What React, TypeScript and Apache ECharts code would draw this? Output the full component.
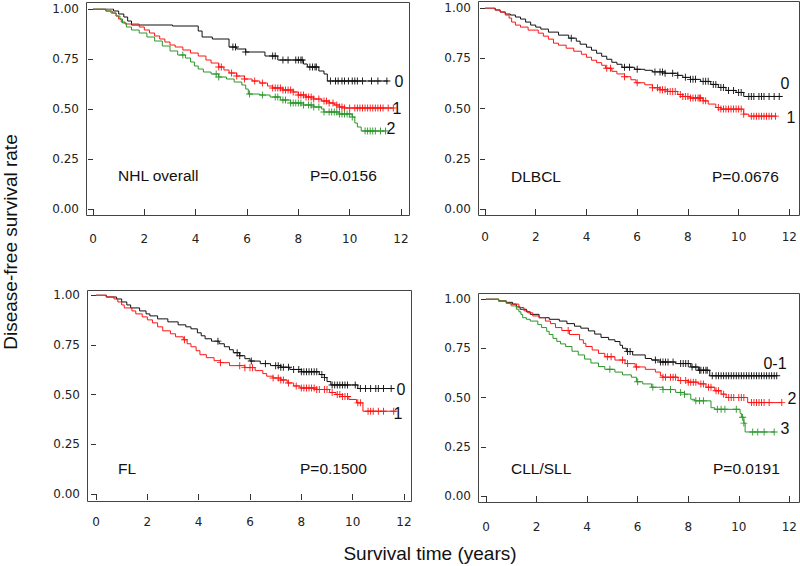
import React, { useEffect, useRef } from "react";
import * as echarts from "echarts";

// ---------- axis ticks ----------
const xTickValues = [0, 2, 4, 6, 8, 10, 12];
const yTickValues = [0, 0.25, 0.5, 0.75, 1.0];

// ---------- Panel 1: NHL overall ----------
const nhlTitle = "NHL overall";
const nhlP = "P=0.0156";
const nhlLabels = ["0", "1", "2"];
const nhl0Steps = [[0,1],[0.8,0.99],[1.0,0.975],[1.2,0.96],[1.35,0.94],[1.5,0.92],[3.1,0.915],[4.1,0.89],[4.25,0.86],[4.65,0.85],[5.3,0.81],[5.6,0.8],[5.95,0.785],[6.7,0.765],[7.2,0.745],[8.2,0.725],[8.35,0.71],[8.8,0.69],[9.0,0.675],[9.13,0.64]];
const nhl0End = 11.5;
const nhl0Cens = [5.45,5.55,5.95,7.0,7.1,7.4,7.6,7.9,8.0,8.1,8.15,8.45,8.55,8.65,8.7,9.25,9.45,9.55,9.7,9.8,9.95,10.1,10.2,10.3,10.5,10.85,11.1,11.45];
const nhl1Steps = [[0,1],[0.5,0.99],[0.75,0.98],[0.9,0.965],[1.0,0.95],[1.1,0.935],[1.25,0.925],[1.8,0.91],[2.0,0.895],[2.2,0.88],[2.4,0.865],[2.6,0.85],[2.8,0.835],[3.0,0.82],[3.2,0.81],[3.5,0.795],[3.8,0.78],[4.1,0.765],[4.4,0.745],[4.6,0.73],[4.9,0.71],[5.1,0.695],[5.3,0.68],[5.6,0.665],[5.9,0.65],[6.2,0.64],[6.5,0.63],[6.8,0.615],[7.0,0.605],[7.4,0.595],[7.8,0.585],[8.0,0.57],[8.3,0.56],[8.6,0.55],[8.9,0.54],[9.2,0.53],[9.4,0.52],[9.6,0.51],[9.8,0.505]];
const nhl1End = 11.7;
const nhl1Cens = [4.9,5.0,5.4,5.6,5.9,6.3,6.6,7.0,7.1,7.2,7.3,7.4,7.5,7.6,7.7,7.8,8.0,8.1,8.2,8.3,8.4,8.5,8.6,8.8,9.0,9.1,9.2,9.35,9.5,9.6,9.7,9.8,10.0,10.2,10.3,10.4,10.5,10.6,10.7,10.8,10.9,11.0,11.1,11.2,11.3,11.5,11.7];
const nhl2Steps = [[0,1],[0.5,0.99],[0.7,0.98],[0.9,0.965],[1.05,0.95],[1.15,0.93],[1.3,0.91],[1.5,0.895],[1.8,0.88],[2.1,0.86],[2.4,0.84],[2.7,0.815],[3.0,0.79],[3.3,0.77],[3.6,0.755],[3.8,0.735],[3.95,0.715],[4.1,0.7],[4.3,0.685],[4.6,0.675],[4.9,0.66],[5.2,0.65],[5.5,0.635],[5.8,0.62],[5.95,0.6],[6.05,0.575],[6.5,0.57],[6.9,0.56],[7.3,0.545],[7.7,0.53],[8.2,0.52],[8.6,0.51],[8.9,0.5],[9.0,0.485],[9.6,0.475],[10.1,0.46],[10.2,0.43],[10.3,0.41],[10.45,0.39]];
const nhl2End = 11.4;
const nhl2Cens = [3.5,4.8,4.9,6.1,6.6,7.1,7.2,7.4,7.5,7.7,7.8,7.9,8.0,8.1,8.2,8.4,8.5,8.6,8.8,9.0,9.2,9.3,9.4,9.5,9.6,9.7,9.8,9.9,10.0,10.1,10.6,10.7,10.8,10.9,11.0,11.2,11.4];

// ---------- Panel 2: DLBCL ----------
const dlTitle = "DLBCL";
const dlP = "P=0.0676";
const dlLabels = ["0", "1"];
const dl0Steps = [[0,1],[0.4,0.99],[0.6,0.98],[0.8,0.97],[1.0,0.965],[1.2,0.955],[1.4,0.945],[1.6,0.93],[1.8,0.915],[2.0,0.905],[2.2,0.895],[2.5,0.88],[2.9,0.865],[3.3,0.85],[3.6,0.835],[3.75,0.82],[4.0,0.805],[4.2,0.79],[4.4,0.775],[4.6,0.76],[4.8,0.745],[5.0,0.73],[5.2,0.72],[5.4,0.705],[5.9,0.695],[6.3,0.69],[6.6,0.682],[7.1,0.675],[7.6,0.665],[7.8,0.655],[8.1,0.645],[8.5,0.635],[8.9,0.62],[9.2,0.605],[9.5,0.59],[9.9,0.58],[10.2,0.56]];
const dl0End = 11.7;
const dl0Cens = [3.4,5.5,5.7,6.0,6.7,6.9,7.0,7.1,7.4,7.6,7.9,8.1,8.2,8.3,8.6,8.7,8.8,9.0,9.1,9.3,9.4,9.6,9.8,10.0,10.1,10.4,10.5,10.6,10.8,10.9,11.0,11.2,11.4,11.6];
const dl1Steps = [[0,1],[0.4,0.99],[0.6,0.98],[0.8,0.965],[0.95,0.95],[1.05,0.93],[1.2,0.915],[1.4,0.905],[1.7,0.89],[2.1,0.875],[2.3,0.86],[2.5,0.845],[2.7,0.825],[2.9,0.815],[3.2,0.8],[3.5,0.785],[3.8,0.77],[4.0,0.755],[4.2,0.74],[4.4,0.728],[4.6,0.715],[4.75,0.7],[5.0,0.685],[5.2,0.672],[5.5,0.658],[5.75,0.643],[5.95,0.628],[6.3,0.618],[6.6,0.603],[6.9,0.593],[7.2,0.585],[7.6,0.57],[7.8,0.56],[8.1,0.552],[8.6,0.538],[8.8,0.522],[9.1,0.505],[9.3,0.497],[10.2,0.472],[10.4,0.462]];
const dl1End = 11.5;
const dl1Cens = [4.8,4.95,5.5,6.0,6.6,6.8,6.9,7.0,7.1,7.2,7.3,7.4,7.5,7.7,7.8,7.9,8.0,8.1,8.2,8.3,8.4,8.45,8.5,8.6,8.7,9.2,9.3,9.4,9.5,9.6,9.7,9.8,9.9,10.0,10.1,10.2,10.5,10.6,10.7,10.8,10.9,11.0,11.1,11.2,11.3,11.45];

// ---------- Panel 3: FL ----------
const flTitle = "FL";
const flP = "P=0.1500";
const flLabels = ["0", "1"];
const fl0Steps = [[0,1],[0.4,0.99],[0.8,0.98],[1.0,0.965],[1.2,0.95],[1.35,0.935],[1.7,0.92],[1.95,0.905],[2.1,0.895],[2.4,0.88],[2.8,0.865],[3.2,0.85],[3.5,0.84],[3.7,0.83],[3.95,0.81],[4.1,0.795],[4.25,0.78],[4.5,0.768],[4.8,0.755],[5.0,0.74],[5.2,0.725],[5.35,0.71],[5.6,0.695],[5.8,0.68],[6.0,0.668],[6.4,0.655],[6.8,0.645],[7.2,0.637],[7.55,0.626],[8.0,0.614],[8.7,0.6],[8.9,0.585],[9.0,0.565],[9.15,0.548],[10.2,0.53]];
const fl0End = 11.5;
const fl0Cens = [4.75,5.5,5.6,6.05,6.6,7.0,7.1,7.2,7.3,7.5,7.7,7.9,8.0,8.1,8.2,8.3,8.4,8.5,8.6,8.8,8.9,9.2,9.3,9.4,9.5,9.6,9.7,9.8,10.1,10.3,10.5,10.7,10.9,11.0,11.2,11.5];
const fl1Steps = [[0,1],[0.4,0.99],[0.7,0.98],[0.85,0.965],[1.0,0.95],[1.1,0.935],[1.4,0.92],[1.55,0.905],[1.8,0.89],[2.0,0.875],[2.2,0.86],[2.4,0.84],[2.6,0.82],[2.9,0.805],[3.1,0.79],[3.4,0.775],[3.55,0.755],[3.7,0.74],[3.9,0.72],[4.05,0.7],[4.3,0.685],[4.6,0.67],[4.85,0.66],[5.2,0.645],[5.8,0.635],[6.2,0.62],[6.5,0.605],[6.65,0.592],[6.9,0.583],[7.2,0.573],[7.45,0.558],[7.7,0.543],[7.95,0.533],[8.6,0.525],[9.1,0.51],[9.35,0.5],[9.6,0.49],[9.85,0.475],[10.15,0.458],[10.4,0.416]];
const fl1End = 11.7;
const fl1Cens = [3.45,4.85,5.6,5.8,6.0,6.1,6.9,7.1,7.2,7.3,7.5,7.8,8.0,8.1,8.2,8.3,8.4,8.5,8.6,8.7,8.9,9.0,9.2,9.4,9.5,9.6,9.7,9.8,10.2,10.3,10.6,10.7,10.8,11.0,11.2,11.6];

// ---------- Panel 4: CLL/SLL ----------
const cllTitle = "CLL/SLL";
const cllP = "P=0.0191";
const cllLabels = ["0-1", "2", "3"];
const cll0Steps = [[0,1],[0.5,0.99],[0.8,0.983],[1.05,0.974],[1.2,0.96],[1.35,0.948],[1.6,0.935],[1.75,0.922],[2.1,0.905],[2.5,0.897],[2.9,0.888],[3.2,0.875],[3.5,0.862],[3.75,0.852],[4.05,0.838],[4.3,0.822],[4.55,0.805],[4.85,0.793],[5.1,0.784],[5.3,0.765],[5.4,0.75],[5.55,0.733],[5.8,0.716],[6.3,0.698],[6.55,0.69],[6.9,0.68],[7.5,0.672],[8.1,0.655],[8.4,0.638],[8.85,0.61]];
const cll0End = 11.5;
const cll0Cens = [5.6,5.7,6.7,6.9,7.0,7.1,7.2,7.4,7.7,7.8,7.9,8.0,8.15,8.3,8.45,8.5,8.6,8.7,8.75,8.95,9.1,9.2,9.3,9.4,9.5,9.6,9.7,9.8,9.9,10.0,10.1,10.2,10.3,10.4,10.5,10.6,10.7,10.8,10.9,11.0,11.1,11.2,11.3,11.4,11.5];
const cll1Steps = [[0,1],[0.5,0.99],[0.8,0.98],[0.95,0.974],[1.3,0.957],[1.5,0.94],[1.65,0.93],[1.85,0.914],[2.1,0.905],[2.35,0.888],[2.55,0.875],[2.75,0.855],[3.0,0.84],[3.3,0.82],[3.7,0.793],[3.85,0.775],[3.95,0.759],[4.2,0.741],[4.45,0.724],[4.7,0.707],[5.1,0.69],[5.5,0.672],[5.9,0.655],[6.3,0.643],[6.7,0.629],[6.9,0.61],[7.0,0.603],[7.6,0.586],[8.0,0.578],[8.4,0.569],[8.7,0.552],[9.05,0.534],[9.3,0.517],[9.5,0.5],[10.35,0.474]];
const cll1End = 11.7;
const cll1Cens = [3.25,4.8,4.95,5.4,5.6,5.95,7.0,7.1,7.3,7.4,7.5,7.7,7.9,8.0,8.1,8.2,8.3,8.5,8.6,8.8,8.9,9.1,9.2,9.4,9.6,9.7,9.8,10.0,10.1,10.2,10.5,10.6,10.7,10.8,10.9,11.0,11.2,11.7];
const cll2Steps = [[0,1],[0.5,0.99],[0.8,0.978],[1.0,0.965],[1.2,0.948],[1.3,0.935],[1.38,0.922],[1.45,0.905],[1.6,0.897],[1.75,0.888],[2.05,0.87],[2.2,0.855],[2.4,0.836],[2.5,0.82],[2.65,0.8],[2.8,0.785],[2.95,0.772],[3.15,0.759],[3.4,0.735],[3.65,0.716],[3.9,0.695],[4.15,0.675],[4.45,0.657],[4.7,0.643],[5.1,0.629],[5.4,0.615],[5.75,0.603],[5.95,0.58],[6.2,0.569],[6.55,0.552],[7.0,0.54],[7.5,0.526],[7.85,0.517],[8.1,0.491],[8.25,0.483],[8.9,0.448],[9.05,0.44],[10.05,0.42],[10.1,0.4],[10.2,0.37],[10.25,0.325]];
const cll2End = 11.4;
const cll2Cens = [4.9,6.0,6.6,7.0,7.3,7.7,7.85,8.3,8.45,8.6,9.15,9.3,9.45,9.9,10.15,10.2,10.55,10.75,11.0,11.4];

// ---------- axis titles ----------
const yTitle = "Disease-free survival rate";
const xTitle = "Survival time (years)";

// ---------- styling / layout ----------
const BLACK = "#111111";
const RED = "#ff1414";
const GREEN = "#2a962a";
const PLUS = "path://M0,4.35H10V5.65H0ZM4.35,0H5.65V10H4.35Z";

type Curve = { steps: number[][]; end: number; cens: number[]; color: string };

const panels = [
  {
    curves: [
      { steps: nhl0Steps, end: nhl0End, cens: nhl0Cens, color: BLACK },
      { steps: nhl1Steps, end: nhl1End, cens: nhl1Cens, color: RED },
      { steps: nhl2Steps, end: nhl2End, cens: nhl2Cens, color: GREEN },
    ] as Curve[],
    title: nhlTitle, p: nhlP, labels: nhlLabels,
    grid: { left: 93, top: 9, width: 308, height: 200 },
    box: [86, 2, 323, 213], xOff: 7, xMargin: 17, yOff: 7,
    titlePos: [118, 175], pPos: [310, 175],
    labelPos: [[399, 81], [397, 108], [391, 128]],
  },
  {
    curves: [
      { steps: dl0Steps, end: dl0End, cens: dl0Cens, color: BLACK },
      { steps: dl1Steps, end: dl1End, cens: dl1Cens, color: RED },
    ] as Curve[],
    title: dlTitle, p: dlP, labels: dlLabels,
    grid: { left: 485, top: 8, width: 308, height: 201 },
    box: [478, 1, 321, 214], xOff: 7, xMargin: 15, yOff: 7,
    titlePos: [511, 176], pPos: [712, 176],
    labelPos: [[785, 83], [791, 117]],
  },
  {
    curves: [
      { steps: fl0Steps, end: fl0End, cens: fl0Cens, color: BLACK },
      { steps: fl1Steps, end: fl1End, cens: fl1Cens, color: RED },
    ] as Curve[],
    title: flTitle, p: flP, labels: flLabels,
    grid: { left: 96, top: 295, width: 308, height: 199 },
    box: [87, 290, 324, 211], xOff: 8, xMargin: 14, yOff: 9,
    titlePos: [118, 468], pPos: [300, 468],
    labelPos: [[401, 389], [398, 413]],
  },
  {
    curves: [
      { steps: cll0Steps, end: cll0End, cens: cll0Cens, color: BLACK },
      { steps: cll1Steps, end: cll1End, cens: cll1Cens, color: RED },
      { steps: cll2Steps, end: cll2End, cens: cll2Cens, color: GREEN },
    ] as Curve[],
    title: cllTitle, p: cllP, labels: cllLabels,
    grid: { left: 486, top: 299, width: 307, height: 197 },
    box: [478, 293, 321, 209], xOff: 7, xMargin: 18, yOff: 8,
    titlePos: [511, 468], pPos: [713, 468],
    labelPos: [[775, 363], [792, 398], [785, 428]],
  },
];

function survAt(steps: number[][], t: number): number {
  let s = steps[0][1];
  for (const [x, y] of steps) {
    if (x <= t) s = y;
    else break;
  }
  return s;
}

const TICK_FONT = "DejaVu Sans";
const TEXT_FONT = "Liberation Sans, Arial, sans-serif";

function buildOption() {
  const grids: any[] = [];
  const xAxes: any[] = [];
  const yAxes: any[] = [];
  const series: any[] = [];
  const graphic: any[] = [];

  panels.forEach((pn, i) => {
    grids.push({ ...pn.grid, containLabel: false });
    xAxes.push({
      type: "value", gridIndex: i, min: xTickValues[0], max: xTickValues[xTickValues.length - 1],
      interval: xTickValues[1] - xTickValues[0], offset: pn.xOff,
      axisLine: { show: false },
      axisTick: { show: true, length: 6, lineStyle: { color: "#333", width: 1 } },
      axisLabel: { margin: pn.xMargin, fontFamily: TICK_FONT, fontSize: 12, color: "#222" },
      splitLine: { show: false },
    });
    yAxes.push({
      type: "value", gridIndex: i, min: yTickValues[0], max: yTickValues[yTickValues.length - 1],
      interval: yTickValues[1] - yTickValues[0], offset: pn.yOff,
      axisLine: { show: false },
      axisTick: { show: true, length: 5, lineStyle: { color: "#333", width: 1 } },
      axisLabel: {
        margin: 7, fontFamily: TICK_FONT, fontSize: 12, color: "#222",
        formatter: (v: number) => v.toFixed(2),
      },
      splitLine: { show: false },
    });
    pn.curves.forEach((c) => {
      const last = c.steps[c.steps.length - 1][1];
      series.push({
        type: "line", xAxisIndex: i, yAxisIndex: i, step: "end",
        data: [...c.steps, [c.end, last]],
        showSymbol: false, symbol: "none",
        lineStyle: { color: c.color, width: 1 },
        itemStyle: { color: c.color },
        silent: true, z: 2,
      });
      series.push({
        type: "scatter", xAxisIndex: i, yAxisIndex: i,
        data: c.cens.map((t) => [t, survAt(c.steps, t)]),
        symbol: PLUS, symbolSize: 7,
        itemStyle: { color: c.color, opacity: 1 },
        silent: true, z: 3,
      });
    });
    const [bx, by, bw, bh] = pn.box;
    graphic.push({
      type: "rect", shape: { x: bx + 0.5, y: by + 0.5, width: bw, height: bh },
      style: { fill: "none", stroke: "#444", lineWidth: 1 }, silent: true, z: 1,
    });
    graphic.push({
      type: "text", x: pn.titlePos[0], y: pn.titlePos[1],
      style: { text: pn.title, fontSize: 15.5, fontFamily: TEXT_FONT, fill: "#111", align: "left", verticalAlign: "middle" },
    });
    graphic.push({
      type: "text", x: pn.pPos[0], y: pn.pPos[1],
      style: { text: pn.p, fontSize: 15.5, fontFamily: TEXT_FONT, fill: "#111", align: "left", verticalAlign: "middle" },
    });
    pn.labels.forEach((lb, k) => {
      graphic.push({
        type: "text", x: pn.labelPos[k][0], y: pn.labelPos[k][1],
        style: { text: lb, fontSize: 16, fontFamily: TEXT_FONT, fill: "#111", align: "center", verticalAlign: "middle" },
      });
    });
  });

  graphic.push({
    type: "text", x: 10, y: 242, rotation: Math.PI / 2,
    style: { text: yTitle, fontSize: 19, fontFamily: TEXT_FONT, fill: "#111", align: "center", verticalAlign: "middle" },
  });
  graphic.push({
    type: "text", x: 430, y: 553,
    style: { text: xTitle, fontSize: 19, fontFamily: TEXT_FONT, fill: "#111", align: "center", verticalAlign: "middle" },
  });

  return {
    animation: false,
    backgroundColor: "#ffffff",
    grid: grids,
    xAxis: xAxes,
    yAxis: yAxes,
    series,
    graphic,
  };
}

export default function App() {
  const ref = useRef<HTMLDivElement>(null);
  useEffect(() => {
    if (!ref.current) return;
    const chart = echarts.init(ref.current, undefined, { renderer: "svg" });
    chart.setOption(buildOption());
    return () => chart.dispose();
  }, []);
  return (
    <div
      ref={ref}
      style={{ position: "fixed", left: 0, top: 0, width: 800, height: 566, background: "#fff" }}
    />
  );
}
